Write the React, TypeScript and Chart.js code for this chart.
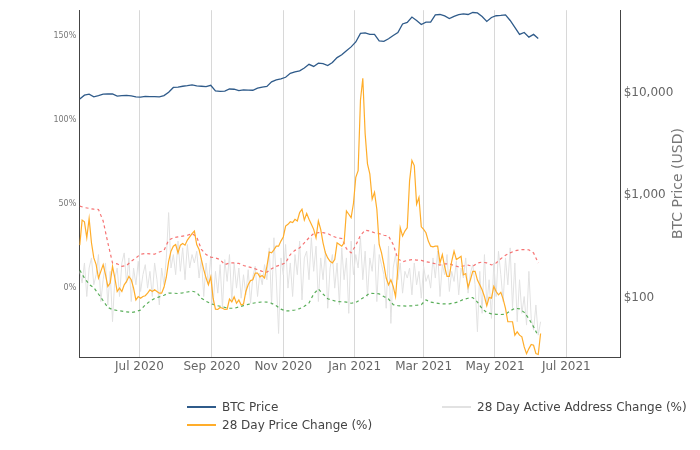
import { useEffect, useRef } from 'react';
import { Chart, registerables } from 'chart.js';

Chart.register(...registerables);

// Day numbers are counted from 1 Jul 2020 (day 0).
const START_DAY = -51; // 11 May 2020
const DAY_MIN = -51.4;
const DAY_MAX = 411.5;

const monthTickDays = [0, 62, 123, 184, 243, 304, 365];
const monthTickLabels = ['Jul 2020', 'Sep 2020', 'Nov 2020', 'Jan 2021', 'Mar 2021', 'May 2021', 'Jul 2021'];
const pctTicks = [0, 50, 100, 150];
const priceTicks = [100, 1000, 10000];

const seriesLabels = ['BTC Price', '28 Day Price Change (%)', '28 Day Active Address Change (%)'];
const rightAxisTitle = 'BTC Price (USD)';

// BTC price (USD), one value every 4 days
const BTC_STEP = 4;
const btcPrice = [
  8700, 9500, 9700, 9150, 9400, 9700, 9750, 9750, 9300, 9400,
  9450, 9350, 9150, 9100, 9250, 9200, 9200, 9150, 9400, 10150,
  11300, 11400, 11600, 11750, 11950, 11700, 11600, 11500, 11850, 10450,
  10350, 10400, 10900, 10850, 10500, 10700, 10650, 10600, 11100, 11400,
  11550, 12800, 13400, 13700, 14200, 15500, 16000, 16400, 17500, 19000,
  18100, 19500, 19300, 18500, 19800, 22100, 23500, 25800, 28100, 31400,
  38000, 38500, 37200, 37200, 32100, 31800, 33700, 36300, 38700, 47000,
  48700, 55000, 50900, 46500, 49000, 49000, 57700, 58200, 56300, 53200,
  55700, 57900, 59100, 58200, 60900, 60300, 55700, 49800, 54400, 56600,
  57000, 57700, 50900, 43500, 37200, 38900, 35000, 37200, 34000,
];

// 28 day price change (%), one value every 2 days
const PCT_STEP = 2;
const priceChange = [
  25.6, 40.5, 39.5, 30, 41.5, 27, 18, 14, 6, 10,
  14, 8, 1, 3, 13, 6, -2, 0, -2, 2,
  4, 7, 5, 0, -7, -5, -6, -5, -4.5, -3,
  -1, -2, -1, -2, -3, -3, 0.5, 6.5, 16, 22,
  25, 26, 21, 25.6, 26.6, 25.6, 28.6, 30.5, 32.5, 34,
  26, 23, 17, 11, 6, 2, 6.7, -6, -12.5, -12.7,
  -11.5, -12, -12.7, -12.5, -6.5, -8.2, -5.2, -9, -7, -10,
  -9.5, -2, 2, 4.5, 5, 9, 9, 6.7, 7.5, 6,
  13, 21.5, 21, 22.8, 25, 25, 28, 30.5, 37, 38,
  39.5, 39, 41, 40, 45, 47, 40.5, 44.5, 41, 38,
  35, 30, 40, 35, 27, 21, 18, 16, 15, 17,
  27, 26, 25, 27, 46, 44, 42, 50.4, 66, 70,
  112, 125, 92, 74, 68, 53, 57, 47, 26, 21,
  14, 6, 2, 5, 1, -5, 12, 36, 31, 34,
  36, 64, 76, 73, 50, 54, 36.5, 35, 33, 28,
  25, 24.6, 25, 25, 15, 20, 12.7, 7, 7, 16,
  22, 17, 18, 19, 8, 8.7, 0.5, 5, 10, 10,
  4.8, 2, -1, -5, -10.5, -5.5, -6, 1, -2, -4,
  -2.5, -6.5, -12, -20, -20, -20, -28, -26, -28, -29,
  -35, -39, -36, -33.5, -34, -39, -39.5, -27,
];

// 28 day active address change (%), one value every 2 days
const addressChange = [
  10, 3, 15, -5, 12, 18, 2, 8, 20, -8,
  5, 15, -10, 10, -20, 6, 12, -5, 15, 21,
  3, 18, -8, 12, 2, 16, -2, 8, 14, 0,
  10, -5, 15, 5, -10, 12, 2, 18, 45, 12,
  20, 8, 28, 10, 24, 5, 26, 12, 20, 15,
  22, 6, 18, -5, 15, 2, 19, -10, 10, -3,
  14, -12, 17, 4, 20, -8, 15, 0, 12, -6,
  8, -4, 11, -9, 7, 13, -5, 9, 2, 14,
  5, 24, -10, 30, 6, -27, 18, 8, 26, 0,
  15, -5, 20, 8, 28, -7, 18, 22, 5, 30,
  10, 25, -8, 18, 5, 22, -12, 12, 20, 0,
  15, -10, 24, 5, 18, -15, 28, 8, 20, 12,
  30, 5, 22, -5, 18, 10, 26, -8, 20, 14,
  8, -12, 25, -21, 12, 20, 5, 15, -3, 10,
  6, 12, -4, 15, 2, 10, -6, 13, 4, 8,
  0, 18, 6, 22, -5, 14, 8, 20, -2, 10,
  4, 16, -4, 12, 6, 18, -3, 9, 14, 2,
  -26, 10, -15, 20, -10, 5, -18, 15, -5, 22,
  8, -8, 18, 2, 24, -12, 15, -20, 5, -15,
  -5, -22, 10, -18, -25, -10, -28, -20,
];

// Upper / lower band of the price change (%), one value every 4 days
const BAND_STEP = 4;
const upperBand = [
  48.8, 48, 47.5, 47, 46.8, 40, 27, 15, 14.5, 13,
  13.5, 16, 18, 20.2, 20.6, 20.4, 20.2, 21.5, 22.5, 28.6,
  30, 30.5, 31, 31.5, 32.5, 30.5, 23, 20, 18.5, 18,
  17, 14, 15, 15, 14.7, 13.5, 12.7, 12, 11, 10,
  9.5, 11.5, 13, 14, 15, 20, 22.5, 24, 27, 30,
  32.5, 33, 33, 32.5, 31, 30, 29.6, 23.5, 21, 25.5,
  31.5, 34.5, 34, 33, 32.5, 31.5, 31, 26, 17.5, 15.7,
  16.5, 17, 16.7, 16.5, 15.7, 15.2, 14.5, 13.7, 14.5, 14.5,
  13.5, 12.7, 13.2, 13.7, 13, 15, 15.5, 15, 13.8, 15,
  17.5, 19.6, 21, 22.2, 22.8, 23, 22.8, 21, 15,
];
const lowerBand = [
  10.7, 6, 2.3, 0.3, -3.5, -7.5, -11.5, -12.8, -13.3, -13.7,
  -14.1, -14.5, -14, -13, -10, -7.8, -6.2, -5.2, -4.2, -3,
  -3, -3.2, -2.8, -2.3, -1.8, -2.5, -6, -7.8, -9.2, -10.2,
  -10.8, -11.4, -11.9, -12, -11.2, -10.4, -9.7, -9, -8.5, -8.2,
  -8.3, -9, -10.5, -12.5, -13.5, -13.5, -13, -12.2, -10.8, -8.8,
  -3.5, -0.5, -3.5, -6.3, -7.2, -8, -8.1, -8.3, -9, -8.5,
  -6.8, -5, -3, -3.2, -3.4, -5, -6.5, -9.8, -10.4, -10.6,
  -10.7, -10.5, -10.2, -9.8, -7, -8.3, -8.8, -9.2, -9.4, -9.4,
  -8.8, -8.1, -6.7, -6, -5.6, -8.3, -12.2, -14.5, -15.3, -15.6,
  -15.7, -15.6, -13.5, -12, -12.3, -14.4, -18.2, -23, -28.5,
];

const toPoints = (vals: number[], step: number) =>
  vals.map((y, i) => ({ x: START_DAY + i * step, y }));

const COLORS = {
  btc: '#2f5b8a',
  price: '#ffad2a',
  address: '#e2e2e2',
  upper: 'rgba(245, 90, 90, 0.85)',
  lower: 'rgba(60, 160, 60, 0.85)',
};

const rightTitlePlugin = {
  id: 'rightTitle',
  afterDraw(chart: any) {
    const { ctx, chartArea } = chart;
    const scale = chart.scales.yR;
    ctx.save();
    ctx.translate(scale.right - 21.5, (chartArea.top + chartArea.bottom) / 2);
    ctx.rotate(-Math.PI / 2);
    ctx.font = '14px "DejaVu Sans"';
    ctx.fillStyle = '#777';
    ctx.textAlign = 'center';
    ctx.textBaseline = 'middle';
    ctx.fillText(rightAxisTitle, 0, 0);
    ctx.restore();
  },
};

function LegendItem({ left, top, color, text }: { left: number; top: number; color: string; text: string }) {
  return (
    <div style={{ position: 'absolute', left, top, height: 14, display: 'flex', alignItems: 'center' }}>
      <div style={{ width: 29, height: 0, borderTop: `2px solid ${color}`, marginRight: 6 }} />
      <span style={{ font: '12px "DejaVu Sans"', color: '#444', lineHeight: '14px', whiteSpace: 'nowrap' }}>{text}</span>
    </div>
  );
}

export default function App() {
  const canvasRef = useRef<HTMLCanvasElement | null>(null);

  useEffect(() => {
    if (!canvasRef.current) return;
    Chart.defaults.font.family = '"DejaVu Sans", Verdana, sans-serif';
    const chart = new Chart(canvasRef.current, {
      type: 'line',
      data: {
        datasets: [
          {
            label: seriesLabels[0],
            data: toPoints(btcPrice, BTC_STEP),
            yAxisID: 'yR',
            borderColor: COLORS.btc,
            borderWidth: 1.3,
          },
          {
            label: seriesLabels[1],
            data: toPoints(priceChange, PCT_STEP),
            yAxisID: 'yL',
            borderColor: COLORS.price,
            borderWidth: 1.2,
          },
          {
            label: 'Upper band',
            data: toPoints(upperBand, BAND_STEP),
            yAxisID: 'yL',
            borderColor: COLORS.upper,
            borderWidth: 1.2,
            borderDash: [3, 3],
          },
          {
            label: 'Lower band',
            data: toPoints(lowerBand, BAND_STEP),
            yAxisID: 'yL',
            borderColor: COLORS.lower,
            borderWidth: 1.2,
            borderDash: [3, 3],
          },
          {
            label: seriesLabels[2],
            data: toPoints(addressChange, PCT_STEP),
            yAxisID: 'yL',
            borderColor: COLORS.address,
            borderWidth: 1,
          },
        ],
      },
      options: {
        animation: false,
        responsive: false,
        layout: { padding: { top: 10, left: 0, right: 0, bottom: 0 } },
        elements: { point: { radius: 0 }, line: { tension: 0 } },
        plugins: { legend: { display: false }, tooltip: { enabled: false } },
        scales: {
          x: {
            type: 'linear',
            min: DAY_MIN,
            max: DAY_MAX,
            afterBuildTicks: (s: any) => {
              s.ticks = monthTickDays.map((v) => ({ value: v }));
            },
            afterFit: (s: any) => {
              s.height = 93;
            },
            grid: { color: '#d8d8d8', drawTicks: false, lineWidth: 1 },
            border: { color: '#444', width: 1 },
            ticks: {
              padding: 3,
              color: '#666',
              font: { size: 12 },
              maxRotation: 0,
              callback: (v: any) => {
                const i = monthTickDays.indexOf(Number(v));
                return i >= 0 ? monthTickLabels[i] : '';
              },
            },
          },
          yL: {
            type: 'linear',
            position: 'left',
            min: -41,
            max: 165.5,
            afterBuildTicks: (s: any) => {
              s.ticks = pctTicks.map((v) => ({ value: v }));
            },
            afterFit: (s: any) => {
              s.width = 79.3;
            },
            grid: { display: false, drawTicks: false },
            border: { color: '#444', width: 1 },
            ticks: {
              padding: 3,
              color: '#777',
              font: { size: 8 },
              callback: (v: any) => `${v}%`,
            },
          },
          yR: {
            type: 'logarithmic',
            position: 'right',
            min: 26.4,
            max: 64100,
            afterBuildTicks: (s: any) => {
              s.ticks = priceTicks.map((v) => ({ value: v }));
            },
            afterFit: (s: any) => {
              s.width = 79.3;
            },
            grid: { display: false, drawTicks: false },
            border: { color: '#444', width: 1 },
            ticks: {
              padding: 3,
              color: '#666',
              font: { size: 12 },
              callback: (v: any) => '$' + Number(v).toLocaleString('en-US'),
            },
          },
        },
      },
      plugins: [rightTitlePlugin],
    } as any);
    return () => chart.destroy();
  }, []);

  return (
    <div style={{ position: 'absolute', left: 0, top: 0, width: 700, height: 450, background: '#fff' }}>
      <canvas ref={canvasRef} width={700} height={450} style={{ display: 'block' }} />
      <LegendItem left={187} top={399.5} color={COLORS.btc} text={seriesLabels[0]} />
      <LegendItem left={187} top={418} color={COLORS.price} text={seriesLabels[1]} />
      <LegendItem left={442} top={399.5} color={COLORS.address} text={seriesLabels[2]} />
    </div>
  );
}
